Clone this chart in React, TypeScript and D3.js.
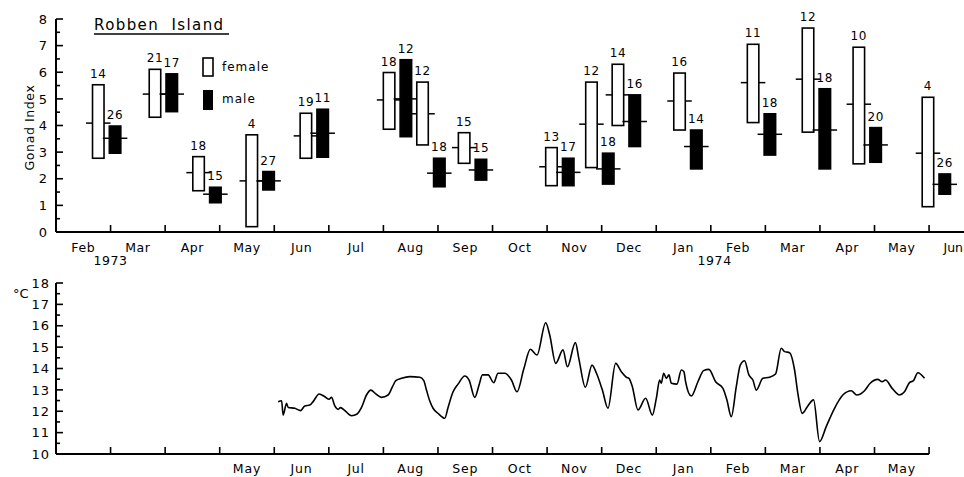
// gonad index of Robben Island samples + sea temperature
import { useEffect, useRef } from 'react';
import * as d3 from 'd3';

const monthNames = ['Jan', 'Feb', 'Mar', 'Apr', 'May', 'Jun', 'Jul', 'Aug', 'Sep', 'Oct', 'Nov', 'Dec'];

// sampling dates (one female + one male box per date)
const sampleDates = [
  '1973-02-27', '1973-03-31', '1973-04-24', '1973-05-24', '1973-06-23', '1973-08-09',
  '1973-08-28', '1973-09-20', '1973-11-08', '1973-11-30', '1973-12-15', '1974-01-19',
  '1974-02-27', '1974-03-30', '1974-04-27', '1974-06-05'
];

const femaleN = [14, 21, 18, 4, 19, 18, 12, 15, 13, 12, 14, 16, 11, 12, 10, 4];
const femaleMean = [4.09, 5.18, 2.23, 1.92, 3.61, 4.96, 4.44, 3.17, 2.45, 4.05, 5.15, 4.92, 5.61, 5.74, 4.80, 2.96];
const femaleLow = [2.77, 4.31, 1.55, 0.20, 2.77, 3.86, 3.27, 2.58, 1.74, 2.42, 4.00, 3.83, 4.11, 3.75, 2.56, 0.95];
const femaleHigh = [5.53, 6.11, 2.83, 3.65, 4.46, 5.99, 5.63, 3.73, 3.17, 5.63, 6.30, 5.97, 7.05, 7.66, 6.94, 5.06];

const maleN = [26, 17, 15, 27, 11, 12, 18, 15, 17, 18, 16, 14, 18, 18, 20, 26];
const maleMean = [3.52, 5.18, 1.42, 1.92, 3.71, 5.00, 2.21, 2.33, 2.24, 2.37, 4.15, 3.21, 3.67, 3.83, 3.27, 1.79];
const maleLow = [2.96, 4.52, 1.10, 1.58, 2.81, 3.58, 1.70, 1.95, 1.74, 1.80, 3.21, 2.37, 2.89, 2.37, 2.62, 1.42];
const maleHigh = [3.98, 5.94, 1.68, 2.27, 4.61, 6.47, 2.77, 2.73, 2.77, 2.96, 5.15, 3.83, 4.44, 5.38, 3.92, 2.18];

// temperature: months since 1 Feb 1973, degrees C
const tempMonth = [
  4.071, 4.134, 4.163, 4.225, 4.255, 4.377, 4.482, 4.560, 4.652, 4.712, 4.822, 4.927, 5.005, 5.049, 5.110, 5.170,
  5.214, 5.293, 5.416, 5.518, 5.599, 5.690, 5.769, 5.861, 5.965, 6.086, 6.167, 6.227, 6.332, 6.484, 6.667, 6.740,
  6.789, 6.850, 6.910, 7.002, 7.125, 7.185, 7.277, 7.368, 7.491, 7.570, 7.674, 7.753, 7.815, 7.918, 8.022, 8.101,
  8.223, 8.346, 8.449, 8.571, 8.694, 8.815, 8.974, 9.048, 9.158, 9.291, 9.372, 9.518, 9.584, 9.701, 9.823, 9.903,
  10.013, 10.115, 10.256, 10.361, 10.452, 10.500, 10.562, 10.665, 10.806, 10.929, 11.002, 11.062, 11.093, 11.136,
  11.185, 11.233, 11.277, 11.379, 11.460, 11.507, 11.538, 11.643, 11.764, 11.868, 11.965, 12.088, 12.222, 12.295,
  12.375, 12.467, 12.540, 12.619, 12.698, 12.771, 12.833, 12.954, 13.077, 13.187, 13.291, 13.352, 13.443, 13.535,
  13.595, 13.676, 13.778, 13.883, 13.993, 14.115, 14.267, 14.419, 14.573, 14.676, 14.817, 14.921, 15.060, 15.141,
  15.201, 15.324, 15.458, 15.549, 15.641, 15.714, 15.793, 15.916
];
const tempC = [
  12.45, 12.49, 11.82, 12.37, 12.18, 12.14, 12.03, 12.25, 12.29, 12.45, 12.81, 12.68, 12.56, 12.65, 12.25, 12.09,
  12.17, 12.03, 11.79, 11.87, 12.18, 12.76, 12.99, 12.81, 12.65, 12.76, 13.15, 13.43, 13.54, 13.62, 13.59, 13.43,
  12.99, 12.48, 12.14, 11.90, 11.67, 12.18, 12.91, 13.27, 13.65, 13.46, 12.65, 13.23, 13.70, 13.70, 13.34, 13.78,
  13.78, 13.46, 12.91, 13.96, 14.90, 14.63, 16.14, 15.57, 14.24, 14.87, 14.08, 15.21, 14.43, 13.12, 14.16, 13.79,
  12.99, 12.14, 14.24, 13.85, 13.59, 13.54, 13.15, 12.06, 12.61, 11.82, 12.61, 13.46, 13.31, 13.78,
  13.54, 13.70, 13.31, 13.27, 13.93, 13.85, 13.38, 12.71, 13.38, 13.90, 13.96, 13.38, 13.07, 12.53,
  11.75, 13.15, 14.16, 14.36, 13.70, 13.46, 12.99, 13.54, 13.59, 13.74, 14.95, 14.79, 14.74, 13.93,
  12.84, 11.90, 12.25, 12.53, 10.58, 11.28, 12.14, 12.76, 12.96, 12.76, 12.96, 13.31, 13.49, 13.38,
  13.46, 13.07, 12.76, 12.91, 13.34, 13.43, 13.80, 13.54
];

const yearLabels = ['1973', '1974'];
const yearAt = [1.0, 12.07];

// date string -> months since 1 Feb 1973
function monthPos(s: string) {
  const [y, m, d] = s.split('-').map(Number);
  const days = new Date(y, m, 0).getDate();
  return (y - 1973) * 12 + (m - 2) + (d - 1) / days;
}

function App() {
  const ref = useRef<SVGSVGElement>(null);
  const width = 964;
  const height = 477;
  const font = "'DejaVu Sans', sans-serif";

  useEffect(() => {
    const svg = d3.select(ref.current);
    svg.selectAll('*').remove();

    const x = d3.scaleLinear().domain([0, 16.64]).range([56, 964]);
    const yTop = d3.scaleLinear().domain([0, 8]).range([232, 19]);
    const yBot = d3.scaleLinear().domain([10, 18]).range([454, 283]);

    const g = svg.append('g').attr('font-family', font).attr('fill', '#000');

    // ---------- top panel ----------
    g.append('line').attr('x1', x(0)).attr('x2', 964).attr('y1', yTop(0)).attr('y2', yTop(0))
      .attr('stroke', '#000').attr('stroke-width', 2);
    g.append('line').attr('x1', x(0)).attr('x2', x(0)).attr('y1', yTop(8)).attr('y2', yTop(0))
      .attr('stroke', '#000').attr('stroke-width', 2);

    d3.range(0, 8.01, 0.5).forEach(v => {
      const major = v % 1 === 0;
      g.append('line').attr('x1', x(0)).attr('x2', x(0) + (major ? 7 : 4))
        .attr('y1', yTop(v)).attr('y2', yTop(v)).attr('stroke', '#000').attr('stroke-width', 1.6);
      if (major) {
        g.append('text').attr('x', 47).attr('y', yTop(v)).attr('dy', '0.36em')
          .attr('text-anchor', 'end').style('font-size', '13px').text(v);
      }
    });
    g.append('text').attr('transform', 'translate(34,' + ((yTop(0) + yTop(8)) / 2 + 2) + ') rotate(-90)')
      .attr('text-anchor', 'middle').style('font-size', '12.5px').style('letter-spacing', '0.6px').text('Gonad Index');

    d3.range(1, 17).forEach(i => {
      g.append('line').attr('x1', x(i)).attr('x2', x(i)).attr('y1', yTop(0)).attr('y2', yTop(0) - 7)
        .attr('stroke', '#000').attr('stroke-width', 1.6);
    });
    d3.range(0, 17).forEach(i => {
      const last = i === 16;
      g.append('text').attr('x', last ? 963 : x(i + 0.5)).attr('y', 252)
        .attr('text-anchor', last ? 'end' : 'middle')
        .style('font-size', '12.5px').style('letter-spacing', last ? '0px' : '0.6px').text(monthNames[(i + 1) % 12]);
    });
    yearLabels.forEach((yl, i) => {
      g.append('text').attr('x', x(yearAt[i])).attr('y', 265).attr('text-anchor', 'middle')
        .style('font-size', '12.5px').style('letter-spacing', '0.6px').text(yl);
    });

    // title
    g.append('text').attr('x', 94).attr('y', 30).style('font-size', '15px')
      .style('letter-spacing', '1.4px').attr('xml:space', 'preserve').text('Robben  Island');
    g.append('line').attr('x1', 94).attr('x2', 229).attr('y1', 34).attr('y2', 34)
      .attr('stroke', '#000').attr('stroke-width', 1.5);

    // legend
    g.append('rect').attr('x', 203).attr('y', 58).attr('width', 10).attr('height', 18)
      .attr('fill', '#fff').attr('stroke', '#000').attr('stroke-width', 1.6);
    g.append('text').attr('x', 222).attr('y', 71).style('font-size', '12px').style('letter-spacing', '1px').text('female');
    g.append('rect').attr('x', 203).attr('y', 90).attr('width', 10).attr('height', 20).attr('fill', '#000');
    g.append('text').attr('x', 222).attr('y', 103).style('font-size', '12px').style('letter-spacing', '1px').text('male');

    // boxes
    const bw = 11.5;
    const off = 8.4;
    const drawBox = (cx: number, lo: number, hi: number, mean: number, n: number, filled: boolean) => {
      const x0 = cx - bw / 2;
      const x1 = cx + bw / 2;
      g.append('rect').attr('x', x0).attr('y', yTop(hi)).attr('width', bw).attr('height', yTop(lo) - yTop(hi))
        .attr('fill', filled ? '#000' : '#fff').attr('stroke', '#000').attr('stroke-width', 1.6);
      [[x0 - 6.5, x0], [x1, x1 + 6.5]].forEach(s => {
        g.append('line').attr('x1', s[0]).attr('x2', s[1]).attr('y1', yTop(mean)).attr('y2', yTop(mean))
          .attr('stroke', '#000').attr('stroke-width', 1.5);
      });
      g.append('text').attr('x', cx).attr('y', yTop(hi) - 7).attr('text-anchor', 'middle')
        .style('font-size', '12px').style('letter-spacing', '0.6px').text(n);
    };
    sampleDates.forEach((d, i) => {
      const cx = x(monthPos(d));
      drawBox(cx - off, femaleLow[i], femaleHigh[i], femaleMean[i], femaleN[i], false);
      drawBox(cx + off, maleLow[i], maleHigh[i], maleMean[i], maleN[i], true);
    });

    // ---------- bottom panel ----------
    g.append('line').attr('x1', x(0)).attr('x2', x(16)).attr('y1', yBot(10)).attr('y2', yBot(10))
      .attr('stroke', '#000').attr('stroke-width', 2);
    g.append('line').attr('x1', x(0)).attr('x2', x(0)).attr('y1', yBot(18)).attr('y2', yBot(10))
      .attr('stroke', '#000').attr('stroke-width', 2);
    d3.range(10, 18.01, 0.5).forEach(v => {
      const major = v % 1 === 0;
      g.append('line').attr('x1', x(0)).attr('x2', x(0) + (major ? 7 : 4))
        .attr('y1', yBot(v)).attr('y2', yBot(v)).attr('stroke', '#000').attr('stroke-width', 1.6);
      if (major) {
        g.append('text').attr('x', 50).attr('y', yBot(v)).attr('dy', '0.36em')
          .attr('text-anchor', 'end').style('font-size', '13px').style('letter-spacing', '1px').text(v);
      }
    });
    g.append('text').attr('x', 13).attr('y', 298).style('font-size', '13px').text('°C');

    d3.range(1, 17).forEach(i => {
      g.append('line').attr('x1', x(i)).attr('x2', x(i)).attr('y1', yBot(10)).attr('y2', yBot(10) - 7)
        .attr('stroke', '#000').attr('stroke-width', 1.6);
    });
    d3.range(3, 16).forEach(i => {
      g.append('text').attr('x', x(i + 0.5)).attr('y', 473).attr('text-anchor', 'middle')
        .style('font-size', '12.5px').style('letter-spacing', '0.8px').text(monthNames[(i + 1) % 12]);
    });

    const line = d3.line<number>()
      .x((d, i) => x(tempMonth[i]))
      .y(d => yBot(d))
      .curve(d3.curveMonotoneX);
    g.append('path').attr('d', line(tempC)).attr('fill', 'none')
      .attr('stroke', '#000').attr('stroke-width', 1.6).attr('stroke-linejoin', 'round');
  }, []);

  return (
    <svg ref={ref} width={width} height={height}
      style={{ position: 'absolute', left: 0, top: 0, background: '#fff' }} />
  );
}

export default App;
